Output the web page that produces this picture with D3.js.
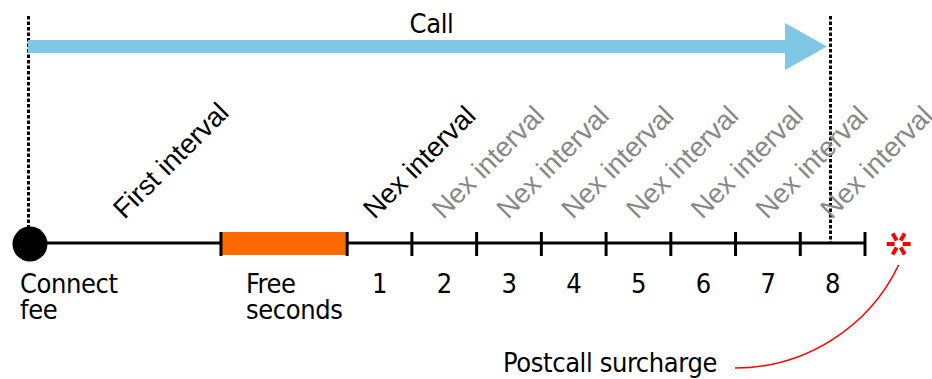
<!DOCTYPE html>
<html>
<head>
<meta charset="utf-8">
<script src="https://cdn.jsdelivr.net/npm/d3@7"></script>
<style>
  html, body { margin: 0; padding: 0; background: #fff; }
  svg { display: block; }
  .big { font-family: "DejaVu Sans Condensed", "DejaVu Sans", sans-serif; font-stretch: condensed; font-size: 27px; fill: #000; letter-spacing: -0.4px; }
  .rot { font-family: "Liberation Sans", Arial, Helvetica, sans-serif; font-size: 27.5px; }
</style>
</head>
<body>
<svg id="chart" width="932" height="379"></svg>
<script>
// ---- data (abstract time units along the call timeline) ----
const connectAt = 0;
const freeSeconds = [2.95, 4.9];
const tickPositions = [2.95, 4.9, 5.9, 6.9, 7.9, 8.9, 9.9, 10.9, 11.9, 12.9];
const intervalNumbers = ["1", "2", "3", "4", "5", "6", "7", "8"];
const intervalStarts = [4.9, 5.9, 6.9, 7.9, 8.9, 9.9, 10.9, 11.9];
const intervalEnds = [5.9, 6.9, 7.9, 8.9, 9.9, 10.9, 11.9, 12.9];
const firstInterval = [0, 2.95];
const intervalLabels = ["Nex interval", "Nex interval", "Nex interval", "Nex interval",
                        "Nex interval", "Nex interval", "Nex interval", "Nex interval"];
const callRange = [0, 12.39];
const surchargeAt = 13.42;
const bottomLabels = [
  { at: 0, lines: ["Connect", "fee"] },
  { at: 2.95, lines: ["Free", "seconds"] }
];

// ---- drawing ----
const svg = d3.select("#chart");
const x = d3.scaleLinear().domain([0, 12.9]).range([30, 865]);
const axisY = 243;

// dotted call boundaries
svg.selectAll("line.bound").data(callRange).join("line")
  .attr("x1", d => Math.round(x(d)) - 1.5).attr("x2", d => Math.round(x(d)) - 1.5)
  .attr("y1", 16).attr("y2", axisY)
  .attr("stroke", "#000").attr("stroke-width", 3)
  .attr("stroke-dasharray", "3.5,2");

// Call arrow
{
  const x0 = x(callRange[0]) - 2, tip = x(callRange[1]) - 5;
  const cy = 46.5, sh = 6.5, hh = 23.5, hl = 42;
  const p = d3.path();
  p.moveTo(x0, cy - sh); p.lineTo(tip - hl, cy - sh); p.lineTo(tip - hl, cy - hh);
  p.lineTo(tip, cy); p.lineTo(tip - hl, cy + hh); p.lineTo(tip - hl, cy + sh);
  p.lineTo(x0, cy + sh); p.closePath();
  svg.append("path").attr("d", p.toString()).attr("fill", "#7ec8e6");
  svg.append("text").attr("class", "big")
    .attr("x", (x0 + tip) / 2 + 4).attr("y", 33)
    .attr("text-anchor", "middle").text("Call");
}

// axis line
svg.append("line")
  .attr("x1", x(connectAt)).attr("x2", x(tickPositions[tickPositions.length - 1]))
  .attr("y1", axisY).attr("y2", axisY)
  .attr("stroke", "#000").attr("stroke-width", 3);

// free seconds bar
svg.append("rect")
  .attr("x", x(freeSeconds[0])).attr("width", x(freeSeconds[1]) - x(freeSeconds[0]))
  .attr("y", axisY - 11).attr("height", 23)
  .attr("fill", "#ff6a00");

// ticks
svg.selectAll("line.tick").data(tickPositions).join("line")
  .attr("x1", d => x(d)).attr("x2", d => x(d))
  .attr("y1", axisY - 11).attr("y2", axisY + 13)
  .attr("stroke", "#000").attr("stroke-width", 3);

// connect dot
svg.append("circle").attr("cx", x(connectAt)).attr("cy", axisY + 1).attr("r", 17.5).attr("fill", "#000");

// bottom labels
bottomLabels.forEach((b, i) => {
  const lx = x(b.at) + (i === 0 ? -10 : 25);
  const t = svg.append("text").attr("class", "big").attr("x", lx).attr("y", 293);
  b.lines.forEach((ln, j) => {
    t.append("tspan").attr("x", lx).attr("dy", j === 0 ? 0 : 26).text(ln);
  });
});

// interval numbers
svg.selectAll("text.num").data(intervalNumbers).join("text")
  .attr("class", "big")
  .attr("x", (d, i) => (x(intervalStarts[i]) + x(intervalEnds[i])) / 2)
  .attr("y", 293).attr("text-anchor", "middle").text(d => d);

// rotated labels
function rotLabel(cx, txt, color, dx) {
  const lx = cx + dx, ly = 220;
  svg.append("text").attr("class", "rot")
    .attr("transform", `translate(${lx},${ly}) rotate(-45)`)
    .attr("fill", color).text(txt);
}
rotLabel((x(firstInterval[0]) + x(firstInterval[1])) / 2, "First interval", "#000", -1);
intervalLabels.forEach((lab, i) => {
  rotLabel((x(intervalStarts[i]) + x(intervalEnds[i])) / 2, lab, i === 0 ? "#000" : "#888", i === 0 ? -5 : -1);
});

// surcharge asterisk
{
  const ax = x(surchargeAt), ay = axisY + 1;
  const spokes = [0, 60, 120, 180, 240, 300];
  svg.selectAll("line.spoke").data(spokes).join("line")
    .attr("x1", a => ax + 4 * Math.cos(a * Math.PI / 180))
    .attr("y1", a => ay + 4 * Math.sin(a * Math.PI / 180))
    .attr("x2", a => ax + 12 * Math.cos(a * Math.PI / 180))
    .attr("y2", a => ay + 12 * Math.sin(a * Math.PI / 180))
    .attr("stroke", "#ff0000").attr("stroke-width", 4);

  // callout arc to label
  const sx = ax, sy = ay + 21, ex = 735, ey = 368;
  const dx = sx - ex, dy = ey - sy;
  const R = (dx * dx + dy * dy) / (2 * dy);
  svg.append("path")
    .attr("d", `M${sx},${sy} A${R},${R} 0 0 1 ${ex},${ey}`)
    .attr("fill", "none").attr("stroke", "#ff0000").attr("stroke-width", 1.6);
  svg.append("text").attr("class", "big")
    .attr("x", ex - 18).attr("y", 372).attr("text-anchor", "end")
    .text("Postcall surcharge");
}
</script>
</body>
</html>
